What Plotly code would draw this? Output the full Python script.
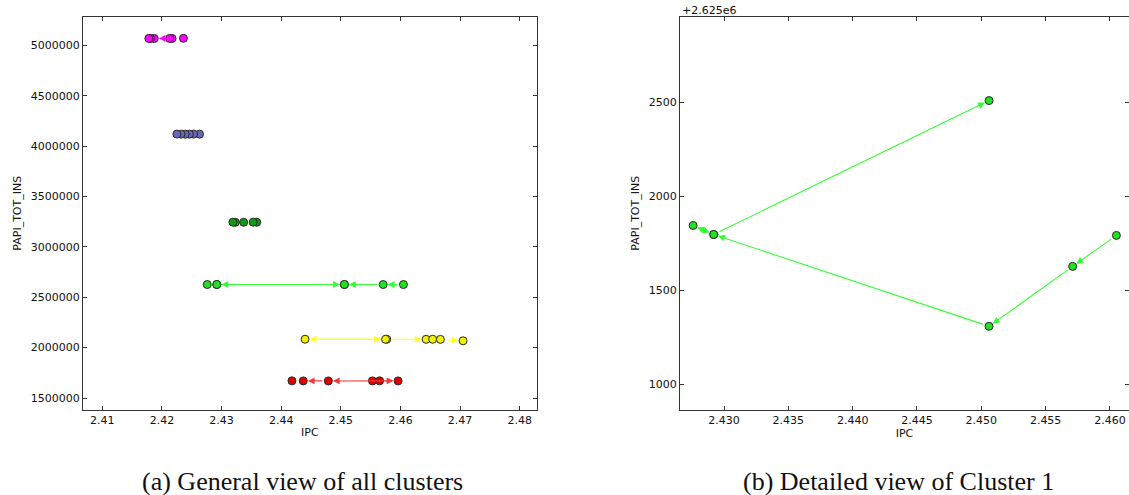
import plotly.graph_objects as go

# Cluster trajectories: IPC vs PAPI_TOT_INS, points listed in visiting order
magenta_ipc = [2.4236, 2.4217, 2.4213, 2.4187, 2.4181, 2.4178]
magenta_ins = [5071000, 5070000, 5070500, 5069500, 5070000, 5070500]

slate_ipc = [2.4263, 2.4253, 2.4246, 2.4239, 2.4232, 2.4225]
slate_ins = [4120000, 4120500, 4120000, 4119500, 4120000, 4120500]

dkgreen_ipc = [2.4359, 2.4353, 2.4337, 2.4323, 2.4319]
dkgreen_ins = [3245000, 3245500, 3245000, 3244500, 3245500]

# Cluster 1 (shown in detail on the right)
lime_ipc = [2.4605, 2.4571, 2.4506, 2.4292, 2.4276, 2.4292, 2.4506]
lime_ins = [2626793, 2626628, 2626309, 2626798, 2626846, 2626798, 2627511]

yellow_ipc = [2.4577, 2.4440, 2.4575, 2.4643, 2.4654, 2.4667, 2.4705]
yellow_ins = [2083000, 2083500, 2083000, 2082500, 2083000, 2082000, 2068000]

red_ipc = [2.4553, 2.4565, 2.4596, 2.4479, 2.4437, 2.4418]
red_ins = [1670000, 1670500, 1670000, 1669500, 1670000, 1670500]

clusters = [
    (magenta_ipc, magenta_ins, "#ff00ff", "#ff00ff"),
    (slate_ipc, slate_ins, "#6666bb", "#6666bb"),
    (dkgreen_ipc, dkgreen_ins, "#129a12", "#129a12"),
    (lime_ipc, lime_ins, "#22e022", "#33ff33"),
    (yellow_ipc, yellow_ins, "#f2f200", "#ffff22"),
    (red_ipc, red_ins, "#e00000", "#f03a3a"),
]

left_xticks = [2.41, 2.42, 2.43, 2.44, 2.45, 2.46, 2.47, 2.48]
left_yticks = [1500000, 2000000, 2500000, 3000000, 3500000, 4000000, 4500000, 5000000]

ins_offset = 2625000
right_xticks = [2.430, 2.435, 2.440, 2.445, 2.450, 2.455, 2.460]
right_ytext = ["1000", "1500", "2000", "2500"]
right_yticks = [ins_offset + int(t) for t in right_ytext]

captions = ["(a) General view of all clusters", "(b) Detailed view of Cluster 1"]

fig = go.Figure()

marker_style = dict(size=8, line=dict(color="#2a2a2a", width=1))

for ipc, ins, fill, _ in clusters:
    fig.add_trace(go.Scatter(
        x=ipc, y=ins, mode="markers",
        marker=dict(color=fill, **marker_style),
        xaxis="x", yaxis="y", showlegend=False, hoverinfo="skip",
    ))

fig.add_trace(go.Scatter(
    x=lime_ipc, y=lime_ins, mode="markers",
    marker=dict(color=clusters[3][2], **marker_style),
    xaxis="x2", yaxis="y2", showlegend=False, hoverinfo="skip",
))

annotations = []


def add_arrows(ipc, ins, color, xref, yref):
    for i in range(len(ipc) - 1):
        annotations.append(dict(
            x=ipc[i + 1], y=ins[i + 1], ax=ipc[i], ay=ins[i],
            xref=xref, yref=yref, axref=xref, ayref=yref,
            text="", showarrow=True, arrowhead=2, arrowsize=1.25,
            arrowwidth=1.1, arrowcolor=color,
            standoff=4.5, startstandoff=4.5,
        ))


for ipc, ins, _, line_color in clusters:
    add_arrows(ipc, ins, line_color, "x", "y")
add_arrows(lime_ipc, lime_ins, clusters[3][3], "x2", "y2")

cap_font = dict(family="Liberation Serif", size=26, color="#111")
annotations.append(dict(text=captions[0], x=302 / 1129, y=1 - 481 / 495,
                        xref="paper", yref="paper", showarrow=False,
                        xanchor="center", yanchor="middle", font=cap_font))
annotations.append(dict(text=captions[1], x=898 / 1129, y=1 - 481 / 495,
                        xref="paper", yref="paper", showarrow=False,
                        xanchor="center", yanchor="middle", font=cap_font))
annotations.append(dict(text="+2.625e6", x=680 / 1129, y=1 - 10 / 495,
                        xref="paper", yref="paper", showarrow=False,
                        xanchor="left", yanchor="middle",
                        font=dict(family="DejaVu Sans", size=11, color="#111")))

axis_common = dict(
    showline=True, linecolor="#333", linewidth=1, mirror="ticks",
    ticks="inside", ticklen=4, tickcolor="#333", tickwidth=1,
    showgrid=False, zeroline=False,
    tickfont=dict(family="DejaVu Sans", size=11, color="#111"),
    title_font=dict(family="DejaVu Sans", size=11, color="#111"),
)

ydom = [1 - 409.5 / 495, 1 - 17 / 495]

fig.update_layout(
    width=1129, height=495,
    margin=dict(l=0, r=0, t=0, b=0),
    paper_bgcolor="white", plot_bgcolor="white",
    xaxis=dict(domain=[83 / 1129, 536.6 / 1129], range=[2.40676, 2.48283],
               tickvals=left_xticks, tickformat=".2f",
               title=dict(text="IPC", standoff=2), anchor="y", **axis_common),
    yaxis=dict(domain=ydom, range=[1385800, 5283000],
               tickvals=left_yticks, tickformat="d",
               title=dict(text="PAPI_TOT_INS", standoff=6), anchor="x", **axis_common),
    xaxis2=dict(domain=[680 / 1129, 1.0], range=[2.42658, 2.46148],
                tickvals=right_xticks, tickformat=".3f",
                title=dict(text="IPC", standoff=2), anchor="y2", **axis_common),
    yaxis2=dict(domain=ydom, range=[ins_offset + 866, ins_offset + 2956],
                tickvals=right_yticks, ticktext=right_ytext,
                title=dict(text="PAPI_TOT_INS", standoff=6), anchor="x2", **axis_common),
    annotations=annotations,
)

fig.write_html("out.html")
